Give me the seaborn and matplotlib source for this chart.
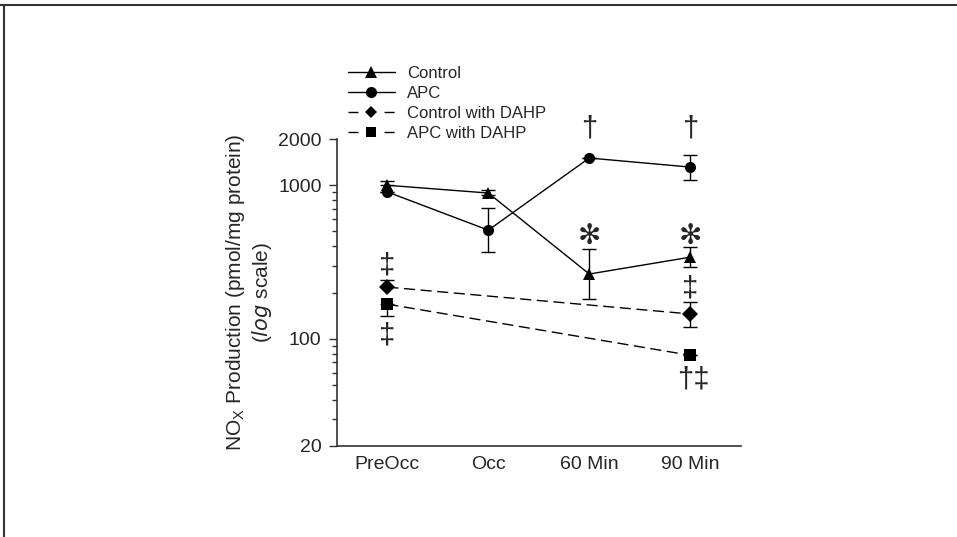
import matplotlib
matplotlib.use("Agg")
import matplotlib.pyplot as plt
import matplotlib.ticker as mticker
from matplotlib.lines import Line2D
import seaborn as sns
import pandas as pd
import numpy as np

# time points
times = ["PreOcc", "Occ", "60 Min", "90 Min"]
groups = ["Control", "APC", "Control with DAHP", "APC with DAHP"]

# NOx production (pmol/mg protein)
control = [1000, 890, 264, 340]
control_lo = [1000, 860, 181, 293]
control_hi = [1060, 935, 384, 395]

apc = [905, 510, 1505, 1314]
apc_lo = [905, 367, 1505, 1082]
apc_hi = [905, 710, 1505, 1574]

ctrl_dahp = [217, np.nan, np.nan, 145]
ctrl_dahp_lo = [217, np.nan, np.nan, 119]
ctrl_dahp_hi = [241, np.nan, np.nan, 173]

apc_dahp = [168, np.nan, np.nan, 78]
apc_dahp_lo = [141, np.nan, np.nan, 78]
apc_dahp_hi = [168, np.nan, np.nan, 78]

# significance marks: (time index, y value, text)
mark_x = [2, 3, 2, 3, 0, 0, 3, 3]
mark_y = [2360, 2360, 470, 470, 300, 105, 212, 54]
mark_txt = ["\u2020", "\u2020", "*", "*", "\u2021", "\u2021", "\u2021", "\u2020\u2021"]

vals = [control, apc, ctrl_dahp, apc_dahp]
los = [control_lo, apc_lo, ctrl_dahp_lo, apc_dahp_lo]
his = [control_hi, apc_hi, ctrl_dahp_hi, apc_dahp_hi]

rows = []
for g, v in zip(groups, vals):
    for i, val in enumerate(v):
        if not np.isnan(val):
            rows.append({"t": i, "nox": val, "group": g})
df = pd.DataFrame(rows)

sns.set_style("white")
plt.rcParams["font.family"] = ["Liberation Sans", "DejaVu Sans"]

fig = plt.figure(figsize=(9.57, 5.37), dpi=100)
ax = fig.add_axes([0.352, 0.1695, 0.422, 0.5715])

markers = {"Control": "^", "APC": "o", "Control with DAHP": "D", "APC with DAHP": "s"}
msize = {"Control": 8, "APC": 8, "Control with DAHP": 6.5, "APC with DAHP": 6.5}
dashes = {"Control": "", "APC": "", "Control with DAHP": (8, 4), "APC with DAHP": (8, 4)}

sns.lineplot(data=df, x="t", y="nox", hue="group", style="group",
             palette=["black"] * 4, markers=markers, dashes=dashes,
             markersize=8, linewidth=1.0, markeredgewidth=0,
             errorbar=None, legend=False, ax=ax)

for g, v, lo, hi in zip(groups, vals, los, his):
    v = np.array(v, float)
    lo = np.array(lo, float)
    hi = np.array(hi, float)
    ok = ~np.isnan(v)
    x = np.arange(len(times))[ok]
    ax.errorbar(x, v[ok], yerr=[v[ok] - lo[ok], hi[ok] - v[ok]], fmt="none",
                ecolor="black", elinewidth=1.0, capsize=5, capthick=1.0, zorder=1)

for x, y, t in zip(mark_x, mark_y, mark_txt):
    if t == "*":
        ax.text(x, y, "\u273b", ha="center", va="center", fontsize=20, clip_on=False,
                family="DejaVu Sans")
    else:
        dx = 0.03 if len(t) > 1 else 0
        ax.text(x + dx, y, t, ha="center", va="center", fontsize=21, clip_on=False)

ax.set_yscale("log")
ax.set_ylim(20, 2000)
ax.set_xlim(-0.5, 3.5)
ax.yaxis.set_major_locator(mticker.FixedLocator([20, 100, 1000, 2000]))
ax.yaxis.set_major_formatter(mticker.FixedFormatter(["20", "100", "1000", "2000"]))
ax.yaxis.set_minor_locator(mticker.LogLocator(base=10, subs=np.arange(2, 10)))
ax.yaxis.set_minor_formatter(mticker.NullFormatter())
ax.set_xticks(range(len(times)))
ax.set_xticklabels(times)

ax.tick_params(axis="x", length=0, pad=7, labelsize=14)
ax.tick_params(axis="y", which="major", direction="out", length=6, width=1, pad=5,
               labelsize=14, left=True, color="#333333")
ax.tick_params(axis="y", which="minor", direction="out", length=3.5, width=1,
               left=True, color="#333333")
for s in ["top", "right"]:
    ax.spines[s].set_visible(False)
for s in ["left", "bottom"]:
    ax.spines[s].set_color("#333333")
    ax.spines[s].set_linewidth(1.2)
ax.set_xlabel("")
ax.set_ylabel("NO$_\\mathregular{X}$ Production (pmol/mg protein)\n($\\mathregular{\\it{log}}$ scale)",
              fontsize=15, labelpad=3, linespacing=1.15)

handles = []
for g in groups:
    ls = "-" if dashes[g] == "" else (0, (7.2, 18.8))
    handles.append(Line2D([0], [0], color="black", lw=1.0, linestyle=ls,
                          marker=markers[g], markersize=msize[g], markeredgewidth=0))
fig.legend(handles, groups, loc="upper left", bbox_to_anchor=(0.3636, 0.878),
           frameon=False, fontsize=12, handlelength=2.8, handletextpad=0.72,
           labelspacing=0.3, borderaxespad=0, borderpad=0)

# outer frame (top and left edge only)
fig.add_artist(Line2D([0, 1], [0.99, 0.99], transform=fig.transFigure, color="#333333", lw=1.5))
fig.add_artist(Line2D([0.0047, 0.0047], [0, 0.99], transform=fig.transFigure, color="#333333", lw=1.5))

fig.savefig("out.png", dpi=100, facecolor="white")
